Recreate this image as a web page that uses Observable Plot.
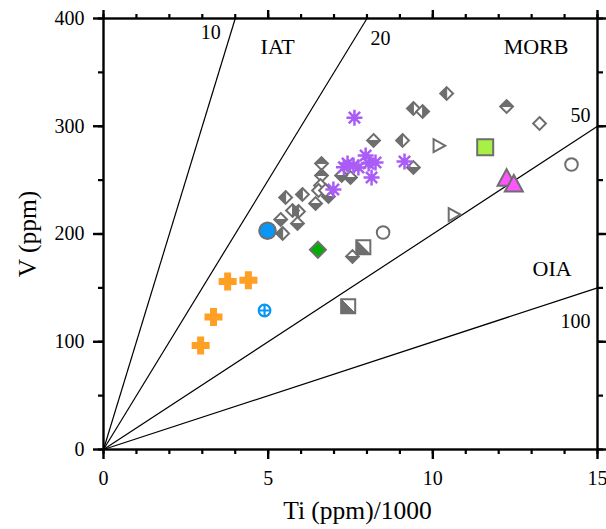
<!DOCTYPE html>
<html>
<head>
<meta charset="utf-8">
<script src="https://cdn.jsdelivr.net/npm/d3@7"></script>
<script src="https://cdn.jsdelivr.net/npm/@observablehq/plot@0.6"></script>
<style>
  html, body { margin: 0; padding: 0; background: #fff; }
</style>
</head>
<body>
<div id="chart"></div>
<script>
// ---------- data ----------
const xMajorTicks = [0, 5, 10, 15];
const xMinorTicks = [0,1,2,3,4,5,6,7,8,9,10,11,12,13,14,15];
const yMajorTicks = [0, 100, 200, 300, 400];
const yMinorTicks = [0,50,100,150,200,250,300,350,400];

const tiVRatios = [10, 20, 50, 100];

const ratioLabels = ["10", "20", "50", "100"];
const ratioLabelX = [2.95, 8.11, 14.18, 13.88];
const ratioLabelY = [381, 375, 303.5, 113];
const zoneLabels = ["IAT", "MORB", "OIA"];
const zoneLabelX = [4.77, 12.15, 13.03];
const zoneLabelY = [367.5, 367.5, 160.6];

const diamondsLeftHalf = [[5.53,233.9],[6.04,236.7],[5.92,220.9],[5.44,200.5],[9.08,286.8],[9.41,316.5],[10.42,330.4]];
const diamondsRightHalf = [[5.74,221.8],[9.69,313.7]];
const diamondsBottomHalf = [[6.44,228.3],[5.38,213.5],[5.89,209.7],[6.83,234.8],[7.23,254.3],[7.50,252.4],[7.56,179.1],[8.20,286.8],[9.41,261.7]];
const diamondsTopHalf = [[6.62,265.4],[6.62,254.3],[12.24,318.3]];
const diamondsOpen = [[6.59,245.0],[6.53,240.4],[6.74,240.4],[13.24,302.6]];
const squaresHalf = [[7.89,187.8],[7.43,133]];
const circlesOpen = [[8.49,201.4],[14.21,264.5]];
const trianglesOpen = [[10.18,282],[10.64,218]];
const asterisks = [[6.98,241.3],[7.41,265.4],[7.59,263.6],[7.74,261.7],[7.96,272.8],[8.05,265.4],[8.14,252.4],[8.26,266.4],[7.30,262.0],[7.62,308],[9.14,267.3]];
const crosses = [[3.77,156],[4.40,157],[3.34,123],[2.95,96.5]];
const blueCircle = [[4.98,203]];
const blueCircledPlus = [[4.89,129]];
const greenDiamond = [[6.51,185.4]];
const limeSquare = [[11.59,280.6]];
const magentaTriangles = [[12.24,251],[12.46,245.6]];

// ---------- symbols ----------
function sym(fn) { return { draw(ctx, size) { fn(ctx, Math.sqrt(size / Math.PI)); } }; }
const diamond = sym((c, r) => { c.moveTo(0,-r); c.lineTo(r,0); c.lineTo(0,r); c.lineTo(-r,0); c.closePath(); });
const halfLeft = sym((c, r) => { c.moveTo(0,-r); c.lineTo(-r,0); c.lineTo(0,r); c.closePath(); });
const halfRight = sym((c, r) => { c.moveTo(0,-r); c.lineTo(r,0); c.lineTo(0,r); c.closePath(); });
const halfTop = sym((c, r) => { c.moveTo(-r,0); c.lineTo(0,-r); c.lineTo(r,0); c.closePath(); });
const halfBottom = sym((c, r) => { c.moveTo(-r,0); c.lineTo(0,r); c.lineTo(r,0); c.closePath(); });
const square = sym((c, r) => { c.moveTo(-r,-r); c.lineTo(r,-r); c.lineTo(r,r); c.lineTo(-r,r); c.closePath(); });
const halfSquare = sym((c, r) => { c.moveTo(-r,-r); c.lineTo(-r,r); c.lineTo(r,r); c.closePath(); });
const triRight = sym((c, r) => { c.moveTo(-0.8*r,-r); c.lineTo(r,0); c.lineTo(-0.8*r,r); c.closePath(); });
const triUp = sym((c, r) => { c.moveTo(0,-1.1*r); c.lineTo(r,0.75*r); c.lineTo(-r,0.75*r); c.closePath(); });
const asterisk = sym((c, r) => {
  for (const a of [0, 45, 90, 135]) {
    const t = a * Math.PI / 180;
    c.moveTo(r*Math.cos(t), r*Math.sin(t)); c.lineTo(-r*Math.cos(t), -r*Math.sin(t));
  }
});
const plus = sym((c, r) => { c.moveTo(-r,0); c.lineTo(r,0); c.moveTo(0,-r); c.lineTo(0,r); });
const circledPlus = sym((c, r) => {
  c.moveTo(r,0); c.arc(0,0,r,0,2*Math.PI);
  c.moveTo(-r,0); c.lineTo(r,0); c.moveTo(0,-r); c.lineTo(0,r);
});

const gray = "#6e6e6e";
const X = d => d[0], Y = d => d[1];

function halfDiamonds(data, half) {
  return [
    Plot.dot(data, {x: X, y: Y, symbol: diamond, r: 6.4, fill: "white", stroke: gray, strokeWidth: 2}),
    Plot.dot(data, {x: X, y: Y, symbol: half, r: 6.4, fill: gray, stroke: gray, strokeWidth: 1})
  ];
}

const chart = Plot.plot({
  width: 606,
  height: 529,
  marginLeft: 103,
  marginRight: 9,
  marginTop: 18,
  marginBottom: 80,
  x: {domain: [0, 15]},
  y: {domain: [0, 400]},
  style: {fontFamily: "'Liberation Serif', 'Times New Roman', serif", fontSize: "20px", background: "white", color: "black"},
  marks: [
    Plot.link(tiVRatios, {
      x1: () => 0, y1: () => 0,
      x2: r => Math.min(15, 0.4 * r),
      y2: r => Math.min(15, 0.4 * r) * 1000 / r,
      stroke: "black", strokeWidth: 1.2
    }),
    Plot.text(ratioLabels, {text: d => d, x: (d, i) => ratioLabelX[i], y: (d, i) => ratioLabelY[i],
      textAnchor: "start", lineAnchor: "bottom", fontSize: 20, fill: "black"}),
    Plot.text(zoneLabels, {text: d => d, x: (d, i) => zoneLabelX[i], y: (d, i) => zoneLabelY[i],
      textAnchor: "start", lineAnchor: "bottom", fontSize: 22, fill: "black"}),

    ...halfDiamonds(diamondsLeftHalf, halfLeft),
    ...halfDiamonds(diamondsRightHalf, halfRight),
    ...halfDiamonds(diamondsBottomHalf, halfBottom),
    ...halfDiamonds(diamondsTopHalf, halfTop),
    Plot.dot(diamondsOpen, {x: X, y: Y, symbol: diamond, r: 6.4, fill: "white", stroke: gray, strokeWidth: 2}),
    Plot.dot(squaresHalf, {x: X, y: Y, symbol: square, r: 7, fill: "white", stroke: gray, strokeWidth: 2}),
    Plot.dot(squaresHalf, {x: X, y: Y, symbol: halfSquare, r: 7, fill: gray, stroke: gray, strokeWidth: 1}),
    Plot.dot(circlesOpen, {x: X, y: Y, symbol: "circle", r: 6.3, fill: "white", stroke: gray, strokeWidth: 2}),
    Plot.dot(trianglesOpen, {x: X, y: Y, symbol: triRight, r: 6.5, fill: "white", stroke: gray, strokeWidth: 2}),

    Plot.dot(greenDiamond, {x: X, y: Y, symbol: diamond, r: 8, fill: "#00b000", stroke: gray, strokeWidth: 2}),
    Plot.dot(blueCircle, {x: X, y: Y, symbol: "circle", r: 8.3, fill: "#0a96f5", stroke: gray, strokeWidth: 2}),
    Plot.dot(blueCircledPlus, {x: X, y: Y, symbol: circledPlus, r: 5.8, fill: "white", stroke: "#0a96f5", strokeWidth: 2.2}),
    Plot.dot(crosses, {x: X, y: Y, symbol: plus, r: 9, fill: "none", stroke: "#ffa024", strokeWidth: 7}),
    Plot.dot(limeSquare, {x: X, y: Y, symbol: square, r: 8, fill: "#a8f046", stroke: gray, strokeWidth: 2}),
    Plot.dot(magentaTriangles, {x: X, y: Y, symbol: triUp, r: 9, fill: "#ff55ff", stroke: gray, strokeWidth: 2}),
    Plot.dot(asterisks, {x: X, y: Y, symbol: asterisk, r: 8, fill: "none", stroke: "#a95cf6", strokeWidth: 2.5}),

    Plot.frame({stroke: "black", strokeWidth: 2.4}),
    Plot.axisX(xMajorTicks, {anchor: "bottom", tickSize: 10, tickPadding: 11, strokeWidth: 2.4, fontSize: 20, label: null}),
    Plot.axisX(xMinorTicks, {anchor: "bottom", tickSize: 5, strokeWidth: 2.2, tickFormat: () => "", label: null}),
    Plot.axisX(xMajorTicks, {anchor: "top", tickSize: 9, strokeWidth: 2.4, tickFormat: () => "", label: null}),
    Plot.axisX(xMinorTicks, {anchor: "top", tickSize: 5, strokeWidth: 2.2, tickFormat: () => "", label: null}),
    Plot.axisY(yMajorTicks, {anchor: "left", tickSize: 10, tickPadding: 9, strokeWidth: 2.4, fontSize: 20, label: null}),
    Plot.axisY(yMinorTicks, {anchor: "left", tickSize: 5, strokeWidth: 2.2, tickFormat: () => "", label: null}),
    Plot.axisY(yMajorTicks, {anchor: "right", tickSize: 9, strokeWidth: 2.4, tickFormat: () => "", label: null}),
    Plot.axisY(yMinorTicks, {anchor: "right", tickSize: 5, strokeWidth: 2.2, tickFormat: () => "", label: null}),

    Plot.text(["Ti (ppm)/1000"], {text: d => d, frameAnchor: "bottom", dx: 7, dy: 69, lineAnchor: "bottom", fontSize: 25.5, fill: "black"}),
    Plot.text(["V (ppm)"], {text: d => d, frameAnchor: "left", rotate: -90, dx: -76, textAnchor: "middle", lineAnchor: "middle", fontSize: 25.5, fill: "black"})
  ]
});
document.getElementById("chart").appendChild(chart);
</script>
</body>
</html>
